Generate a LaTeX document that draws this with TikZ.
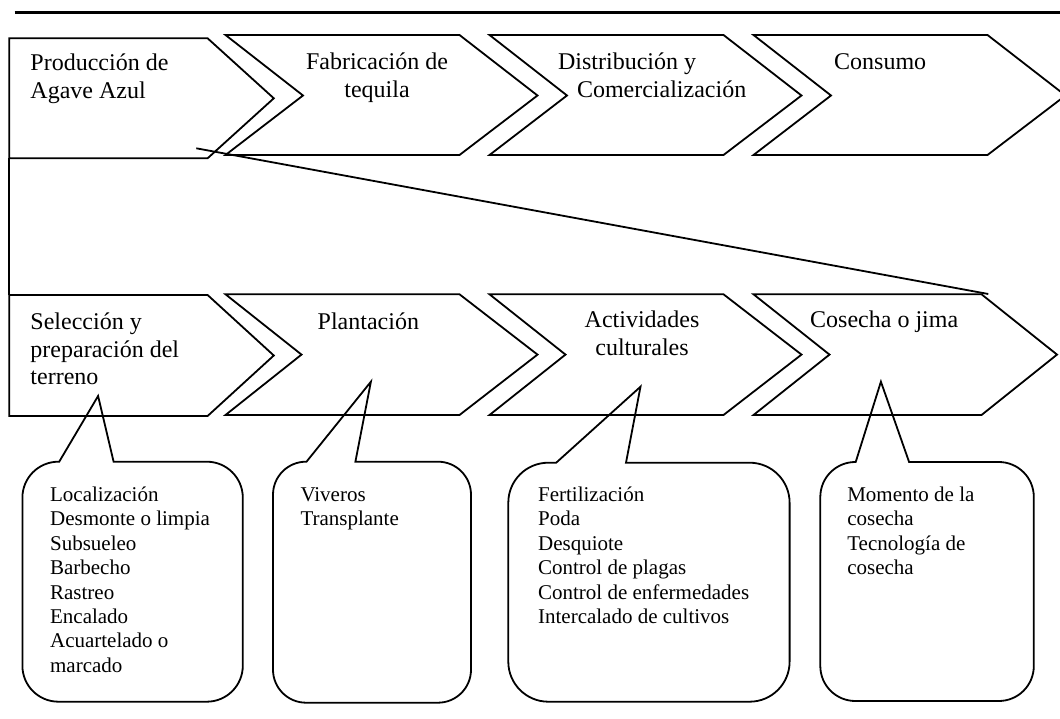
\documentclass[tikz,border=0pt]{standalone}
\usepackage{fontspec}
\setmainfont{Liberation Serif}
\newcommand\stepfont{\fontsize{24}{27.6}\selectfont}
\newcommand\itemfont{\fontsize{21}{24.4}\selectfont}
% stacked lines whose baseline is that of the first line
\newcommand\stkl[1]{\begin{tabular}[t]{@{}l@{}}#1\end{tabular}}
\newcommand\stkc[1]{\begin{tabular}[t]{@{}c@{}}#1\end{tabular}}
\begin{document}
\begin{tikzpicture}[x=1pt,y=-1pt,
  outline/.style={line width=1.8pt, line join=miter, miter limit=10},
  steplabel/.style={font=\stepfont, anchor=base west, inner sep=0pt},
  steplabelc/.style={font=\stepfont, anchor=base, inner sep=0pt},
  itemlabel/.style={font=\itemfont, anchor=base west, inner sep=0pt}]
\useasboundingbox (0,0) rectangle (1060,719);

% heading rule
\draw[line width=2.6pt] (14.5,12.7) -- (1060,12.7);

% ---- upper chain: tequila value chain
\draw[outline] (9.3,38.3) -- (207.6,38.3) -- (273.8,98.3) -- (207.6,158.3) -- (9.3,158.3) -- cycle;
\foreach \n/\c/\t in {225.5/459.5/537.5, 489.5/723.5/801.5, 753.5/987.5/1065.5}
  \draw[outline] (\n,35) -- (\c,35) -- (\t,95.5) -- (\c,155) -- (\n,155) -- (\n+77.5,95.5) -- cycle;

% ---- lower chain: stages of agave production
\draw[outline] (9.3,295) -- (207.6,295) -- (273.8,355.5) -- (207.6,416) -- (9.3,416) -- cycle;
\foreach \n/\c/\t in {225.5/459.5/537.5, 489.5/723.5/801.5, 753.5/981.5/1057}
  \draw[outline] (\n,294.3) -- (\c,294.3) -- (\t,354.6) -- (\c,415) -- (\n,415) -- (\n+76,354.6) -- cycle;

% ---- connectors between the two chains
\coordinate (agaveSW) at (9.3,158.3);
\coordinate (selNW)   at (9.3,295);
\coordinate (agaveIn) at (196.3,148.3);
\coordinate (harvNE)  at (988.3,294);
\draw[outline] (agaveSW) -- (selNW);
\draw[outline] (agaveIn) -- (harvNE);

% ---- callouts: left/right/top/bottom, corner radius, pointer base, pointer tip
\foreach \L/\R/\T/\B/\r/\ba/\bb/\ax/\ay in {
    22.4/242.8/461.7/701.7/36/59.2/113.6/98.1/396,
    273/471/461.7/702.7/33/306.5/355.4/370.9/381.7,
    508.3/789.6/462.7/701.7/40/556.2/626/640.5/386.7,
    820.3/1033.8/462/701/35/855.7/909.1/880.9/381.7}
  \draw[outline] (\bb,\T) -- (\R-\r,\T) arc[start angle=270,end angle=360,radius=\r]
    -- (\R,\B-\r) arc[start angle=0,end angle=90,radius=\r]
    -- (\L+\r,\B) arc[start angle=90,end angle=180,radius=\r]
    -- (\L,\T+\r) arc[start angle=180,end angle=270,radius=\r]
    -- (\ba,\T) -- (\ax,\ay) -- cycle;

% ---- labels of the upper chain
\node[steplabel]  (agave)   at (30.3,71)  {\stkl{Producción de\\Agave Azul}};
\node[steplabelc] (fabric)  at (377,69.5) {\stkc{Fabricación de\\tequila}};
\node[steplabel]  (distrib) at (557.9,69.5) {\stkl{Distribución y\\\hspace*{18.9pt}Comercialización}};
\node[steplabel]  (consumo) at (834,69.5) {Consumo};

% ---- labels of the lower chain
\node[steplabel]  (seleccion)  at (30.3,329.5) {\stkl{Selección y\\preparación del\\terreno}};
\node[steplabel]  (plantacion) at (317.5,329.5) {Plantación};
\node[steplabelc] (actividad)  at (642,327.5) {\stkc{Actividades\\culturales}};
\node[steplabel]  (cosecha)    at (810,327.5) {Cosecha o jima};

% ---- callout contents
\node[itemlabel] (listSel) at (49.9,501.5) {\stkl{Localización\\Desmonte o limpia\\Subsueleo\\Barbecho\\Rastreo\\Encalado\\Acuartelado o\\marcado}};
\node[itemlabel] (listPla) at (300.3,501.5) {\stkl{Viveros\\Transplante}};
\node[itemlabel] (listAct) at (537.9,501.5) {\stkl{Fertilización\\Poda\\Desquiote\\Control de plagas\\Control de enfermedades\\Intercalado de cultivos}};
\node[itemlabel] (listCos) at (847.1,501.5) {\stkl{Momento de la\\cosecha\\Tecnología de\\cosecha}};
\end{tikzpicture}
\end{document}
